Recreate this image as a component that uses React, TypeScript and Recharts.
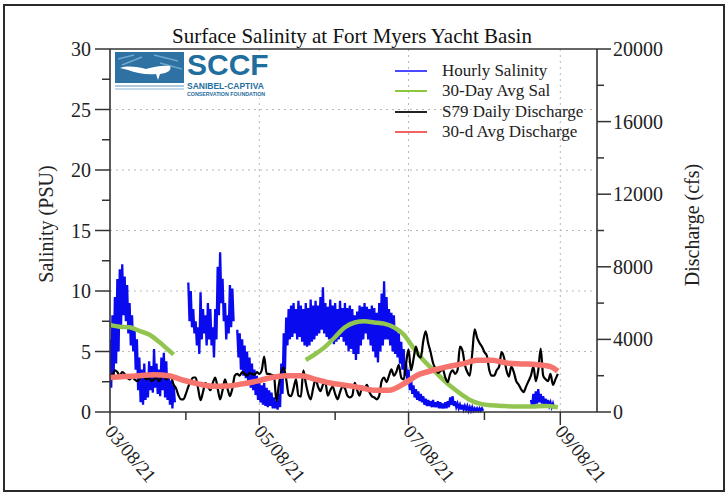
import { CartesianGrid, Line, LineChart, ReferenceLine, XAxis, YAxis } from "recharts"

// days counted from 03/08/21
const xTickDays = [0, 31, 61, 92, 122, 153, 184]
const xTickLabels = ["03/08/21", "", "05/08/21", "", "07/08/21", "", "09/08/21"]
const salTicks = [0, 2.5, 5, 7.5, 10, 12.5, 15, 17.5, 20, 22.5, 25, 27.5, 30]
const dischargeTicks = [0, 2000, 4000, 6000, 8000, 10000, 12000, 14000, 16000, 18000, 20000]
const gridSal = [5, 10, 15, 20, 25]
const gridDays = [61, 122, 184]

// hourly salinity, read as daily tidal high / low (PSU), null = no data
const salHigh = [
  6, 8, 9.5, 11, 11.8, 12.2, 11.2, 10.5, 9, 8, 7, 6, 4.5, 3.5, 4, 3, 4.2, 3.8, 5.2, 4, 3.5, 4.5, 4.9, 4.2, 3, 2.6, 2.2,
  null, null, null, null, null,
  10.7, 10, 8.5, 7.5, 7, 9.9, 8.5, 8, 9, 8.5, 7, 8.5, 12, 13.2, 11, 9, 8, 10.5, 10.2,
  null,
  6.8, 6.5, 6, 5.5, 5, 4.5, 4, 3.5, 3, 2.5, 2.2, 2.4, 2, 1.8, 1.6, 1.2, 0.9, 1.5, 4, 6.5,
  7.8, 8.5, 8.8, 9, 8.5, 9.2, 8.8, 8.5, 9, 8.6, 9.3, 8.8, 9.2, 8.8, 9.5, 10.3, 9, 8.7, 9.3, 8.8, 9, 8.5, 9.2, 8.6,
  9, 8.6, 8.8, 8.5, 8, 8.3, 8.8, 8.7, 9, 8.7, 8.5, 8.8, 8.6, 8.2, 9, 9.8, 10.8, 9.5, 8.5, 8.2, 8, 7, 6.5, 5.8, 5.2,
  4, 3.5, 2.8, 2.2, 1.9, 1.7, 1.5, 1.3, 1.1, 1, 0.9, 1, 0.8, 0.9, 0.8, 0.7, 0.8, 0.9, 1.2, 1.3, 0.9, 0.7, 0.6, 0.6,
  0.5, 0.5, 0.4, 0.4, 0.3, 0.3, 0.3, 0.3,
  null, null, null, null, null, null, null, null, null, null, null, null, null, null, null, null, null, null, null,
  1, 1.5, 1.7, 1.9, 1.5, 1.3, 1.1, 1, 0.8, 0.7,
]
const salLow = [
  2, 3, 4, 5, 7, 8, 7.5, 6.5, 5.5, 5, 3.5, 1.8, 0.8, 0.6, 1, 1.2, 1.8, 1.6, 2, 1.5, 1.3, 1.8, 1.2, 1, 0.6, 0.3, 0.8,
  null, null, null, null, null,
  7.5, 7, 6.5, 5.5, 4.8, 6, 6.5, 5.5, 6, 5.5, 4.5, 6, 8, 9, 7.5, 6, 6.5, 7, 7.5,
  null,
  4.5, 3.5, 3, 2.8, 2.5, 2, 1.8, 1.4, 1, 0.8, 0.6, 0.5, 0.4, 0.5, 0.3, 0.3, 0.2, 0.4, 1.5, 3.5,
  5.5, 6, 6.2, 6.5, 6, 6.2, 5.8, 5.5, 5.4, 5.5, 5.8, 6, 6.3, 6.5, 6.8, 6.5, 6.2, 6, 5.8, 5.6, 5.8, 6, 6.2, 5.8,
  5.5, 5, 5.2, 4.8, 4.3, 4.8, 5.5, 6, 6.5, 6, 5.5, 5, 4.5, 4.1, 5, 5.5, 6, 6, 5.5, 5, 4.8, 4.5, 4, 3.5, 3,
  2.3, 1.8, 1.5, 1.2, 1, 0.9, 0.8, 0.6, 0.5, 0.5, 0.4, 0.4, 0.4, 0.3, 0.3, 0.3, 0.3, 0.4, 0.6, 0.5, 0.4, 0.3, 0.2, 0.2,
  0.2, 0.1, 0.1, 0.1, 0.1, 0.1, 0.1, 0.1,
  null, null, null, null, null, null, null, null, null, null, null, null, null, null, null, null, null, null, null,
  0.5, 0.6, 0.7, 0.8, 0.7, 0.6, 0.5, 0.5, 0.4, 0.3,
]

// 30-day average salinity (PSU)
const avgSalDays = [0, 4, 8, 12, 16, 20, 24, 26, 50, 80, 84, 88, 92, 96, 100, 104, 108, 112, 116, 120, 124, 128, 132, 136, 140, 144, 148, 152, 156, 160, 166, 172, 178, 183]
const avgSal = [7.2, 7.05, 7.0, 6.7, 6.4, 5.8, 5.1, 4.75, null, 4.3, 4.8, 5.4, 6.2, 7.0, 7.4, 7.5, 7.4, 7.3, 7.0, 6.4, 5.3, 4.3, 3.5, 2.7, 2.0, 1.4, 0.9, 0.65, 0.55, 0.5, 0.45, 0.45, 0.5, 0.4]

// S79 daily discharge (cfs), one value per day from 03/08/21
const s79Daily = [
  2100, 2000, 2300, 2200, 2000, 2200, 2100, 1900, 1800, 1900, 1800, 1700, 1800, 2000, 1900, 1800, 1900, 1700, 1800, 1900,
  1700, 1900, 2000, 1800, 1900, 1900, 1500, 1300, 900, 700, 700, 1000, 1400, 1700, 1900, 1900, 1300, 650, 1100, 1600,
  1400, 1200, 1600, 1900, 1300, 700, 1200, 1800, 1300, 870, 1300, 2000, 2100, 2000, 2200, 2100, 2000, 2150, 2100, 2050,
  2200, 2100, 2300, 3050, 2100, 2100, 2050, 2000, 600, 1500, 2200, 2450, 1800, 950, 870, 1300, 1800, 900, 850, 2300,
  1600, 1000, 700, 1300, 1800, 1400, 1150, 1500, 1620, 900, 1200, 1400, 1000, 700, 1100, 1400, 1300, 900, 800, 900,
  1600, 1200, 900, 1400, 1300, 1500, 1100, 870, 800, 700, 900, 1700, 1900, 1650, 2000, 2350, 2000, 2200, 2600, 1900,
  1800, 2700, 3450, 2300, 2900, 3600, 3100, 3000, 3900, 4450, 3800, 3300, 2700, 2400, 2150, 2250, 2350, 1900, 1650, 2100,
  2300, 2100, 2300, 3600, 3400, 2600, 2200, 2000, 3200, 4550, 4100, 3800, 3600, 3300, 3100, 2300, 2000, 2000, 2300, 2500,
  3300, 3000, 2300, 1950, 2500, 2200, 1700, 1500, 1250, 1100, 1400, 1700, 2000, 2500, 1700, 2300, 3500, 2000, 1800, 1700,
  2100, 1500, 1800, 2100,
]

// 30-day average discharge (cfs)
const avgQDays = [0, 6, 12, 18, 24, 30, 36, 42, 48, 54, 60, 66, 72, 78, 84, 90, 96, 102, 108, 114, 120, 126, 132, 138, 144, 150, 156, 162, 168, 174, 180, 183]
const avgQ = [1900, 1950, 2000, 2050, 2000, 1750, 1550, 1420, 1430, 1550, 1700, 1900, 2000, 2000, 1800, 1600, 1480, 1350, 1200, 1200, 1550, 2050, 2300, 2500, 2650, 2850, 2850, 2700, 2650, 2620, 2500, 2250]

const SERIF = '"Liberation Serif", "Times New Roman", serif'
const SANS = '"Liberation Sans", Arial, sans-serif'
const AXIS = "#333333"
const LOGO_BLUE = "#1f6e9e"
const COLORS = {
  hourly: "#0a0aef",
  avgSal: "#92c550",
  s79: "#000000",
  avgQ: "#f6746d",
}

const hourlyData = salHigh.flatMap((hi, d) => [
  { day: d, sal: hi },
  { day: d + 0.5, sal: salLow[d] },
])
const avgSalData = avgSalDays.map((day, i) => ({ day, sal: avgSal[i] }))
const s79Data = s79Daily.map((q, day) => ({ day, q }))
const avgQData = avgQDays.map((day, i) => ({ day, q: avgQ[i] }))

const LeftTick = (props: any) => {
  const { x, y, payload } = props
  const v = payload.value as number
  const major = v % 5 === 0
  return (
    <g>
      <line x1={x - (major ? 15 : 8)} x2={x} y1={y} y2={y} stroke={AXIS} strokeWidth={1.5} />
      {major ? (
        <text x={x - 19} y={y} dy="0.35em" textAnchor="end" fontSize={20} fill="#222" fontFamily={SERIF}>
          {v}
        </text>
      ) : null}
    </g>
  )
}

const RightTick = (props: any) => {
  const { x, y, payload } = props
  const v = payload.value as number
  const major = v % 4000 === 0
  return (
    <g>
      <line x1={x} x2={x + (major ? 14 : 7)} y1={y} y2={y} stroke={AXIS} strokeWidth={1.5} />
      {major ? (
        <text x={x + 16} y={y} dy="0.35em" textAnchor="start" fontSize={20} fill="#222" fontFamily={SERIF}>
          {v}
        </text>
      ) : null}
    </g>
  )
}

const DateTick = (props: any) => {
  const { x, y, payload } = props
  const label = xTickLabels[xTickDays.indexOf(payload.value)] || ""
  const major = label !== ""
  return (
    <g>
      <line x1={x} x2={x} y1={y} y2={y + (major ? 13 : 8)} stroke={AXIS} strokeWidth={1.5} />
      {major ? (
        <text
          transform={`translate(${x - 6},${y + 20}) rotate(50)`}
          textAnchor="start"
          fontSize={19}
          fill="#222"
          fontFamily={SERIF}
        >
          {label}
        </text>
      ) : null}
    </g>
  )
}

const legendItems = [
  { name: "Hourly Salinity", color: "#4a4aff" },
  { name: "30-Day Avg Sal", color: "#8dc63f" },
  { name: "S79 Daily Discharge", color: "#222222" },
  { name: "30-d Avg Discharge", color: "#f26464" },
]

const logoText = (top: number, size: number) => ({
  position: "absolute" as const,
  left: 73,
  top,
  fontFamily: SANS,
  fontWeight: 700,
  fontSize: size,
  lineHeight: `${Math.round(size * 1.12 * 10) / 10}px`,
  color: LOGO_BLUE,
  whiteSpace: "nowrap" as const,
})

function Logo() {
  return (
    <div style={{ position: "absolute", left: 114, top: 51, width: 156, height: 47, background: "#fff" }}>
      <svg width={72} height={42} style={{ position: "absolute", left: 0, top: 0 }}>
        <rect x={1} y={1} width={69} height={31} fill="#2d72a3" />
        <path d="M4 8 L20 4 M8 14 L28 6 M40 4 L64 10 M46 12 L68 18" stroke="#6fa6cc" strokeWidth={1.5} />
        <path
          d="M6 17 C14 14 24 16 32 18 C40 16 48 14 56 15 C58 19 54 22 46 23 L44 29 L42 23 C32 24 22 22 14 19 Z"
          fill="#ffffff"
        />
        <line x1={1} y1={35} x2={70} y2={35} stroke="#5b93bd" strokeWidth={1.2} />
        <line x1={1} y1={38} x2={70} y2={38} stroke="#8ab6d6" strokeWidth={1} />
      </svg>
      <div style={logoText(-2.6, 30)}>SCCF</div>
      <div style={logoText(31, 8.5)}>SANIBEL-CAPTIVA</div>
      <div style={logoText(41, 5.3)}>CONSERVATION FOUNDATION</div>
    </div>
  )
}

export default function App() {
  return (
    <div style={{ position: "absolute", left: 0, top: 0, width: 728, height: 494, background: "#fff", overflow: "hidden" }}>
      <div
        style={{
          position: "absolute",
          left: 3,
          top: 4,
          width: 718,
          height: 484,
          border: "2px solid #2a2a2a",
        }}
      />
      <LineChart width={728} height={494} margin={{ top: 49, right: 0, bottom: 0, left: 0 }}>
        <CartesianGrid
          yAxisId="sal"
          horizontalValues={gridSal}
          verticalValues={gridDays}
          stroke="#b8b8b8"
          strokeDasharray="2 4"
        />
        <XAxis
          type="number"
          dataKey="day"
          domain={[0, 199]}
          ticks={xTickDays}
          interval={0}
          height={82}
          tickSize={0}
          tickMargin={0}
          tickLine={false}
          axisLine={{ stroke: AXIS, strokeWidth: 1.6 }}
          tick={<DateTick />}
          allowDataOverflow
        />
        <YAxis
          yAxisId="sal"
          orientation="left"
          width={110}
          domain={[0, 30]}
          ticks={salTicks}
          interval={0}
          tickSize={0}
          tickMargin={0}
          tickLine={false}
          axisLine={{ stroke: AXIS, strokeWidth: 1.6 }}
          tick={<LeftTick />}
        />
        <YAxis
          yAxisId="q"
          orientation="right"
          width={131}
          domain={[0, 20000]}
          ticks={dischargeTicks}
          interval={0}
          tickSize={0}
          tickMargin={0}
          tickLine={false}
          axisLine={{ stroke: AXIS, strokeWidth: 1.6 }}
          tick={<RightTick />}
        />
        <ReferenceLine yAxisId="sal" y={30} stroke={AXIS} strokeWidth={1.6} />
        <Line
          yAxisId="sal"
          data={hourlyData}
          dataKey="sal"
          type="linear"
          stroke={COLORS.hourly}
          strokeWidth={2.3}
          dot={false}
          isAnimationActive={false}
        />
        <Line
          yAxisId="sal"
          data={avgSalData}
          dataKey="sal"
          type="monotone"
          stroke={COLORS.avgSal}
          strokeWidth={4.5}
          dot={false}
          isAnimationActive={false}
        />
        <Line
          yAxisId="q"
          data={s79Data}
          dataKey="q"
          type="monotone"
          stroke={COLORS.s79}
          strokeWidth={2.2}
          dot={false}
          isAnimationActive={false}
        />
        <Line
          yAxisId="q"
          data={avgQData}
          dataKey="q"
          type="monotone"
          stroke={COLORS.avgQ}
          strokeWidth={5.5}
          dot={false}
          isAnimationActive={false}
        />
      </LineChart>

      <div
        style={{
          position: "absolute",
          left: 0,
          top: 24,
          width: 704,
          textAlign: "center",
          fontFamily: SERIF,
          fontSize: 21,
          lineHeight: "24px",
          color: "#111",
        }}
      >
        Surface Salinity at Fort Myers Yacht Basin
      </div>

      <div
        style={{
          position: "absolute",
          left: 46 - 100,
          top: 224 - 12,
          width: 200,
          height: 24,
          lineHeight: "24px",
          textAlign: "center",
          transform: "rotate(-90deg)",
          fontFamily: SERIF,
          fontSize: 20,
          color: "#222",
        }}
      >
        Salinity (PSU)
      </div>
      <div
        style={{
          position: "absolute",
          left: 692 - 100,
          top: 225 - 12,
          width: 200,
          height: 24,
          lineHeight: "24px",
          textAlign: "center",
          transform: "rotate(-90deg)",
          fontFamily: SERIF,
          fontSize: 20,
          color: "#222",
        }}
      >
        Discharge (cfs)
      </div>

      <Logo />

      <div style={{ position: "absolute", left: 395, top: 61 }}>
        {legendItems.map((item) => (
          <div key={item.name} style={{ display: "flex", alignItems: "center", height: 20.3 }}>
            <span style={{ display: "inline-block", width: 32, height: 2, background: item.color }} />
            <span
              style={{
                marginLeft: 15,
                fontFamily: SERIF,
                fontSize: 17,
                lineHeight: "20px",
                color: "#222",
                whiteSpace: "nowrap",
              }}
            >
              {item.name}
            </span>
          </div>
        ))}
      </div>
    </div>
  )
}
